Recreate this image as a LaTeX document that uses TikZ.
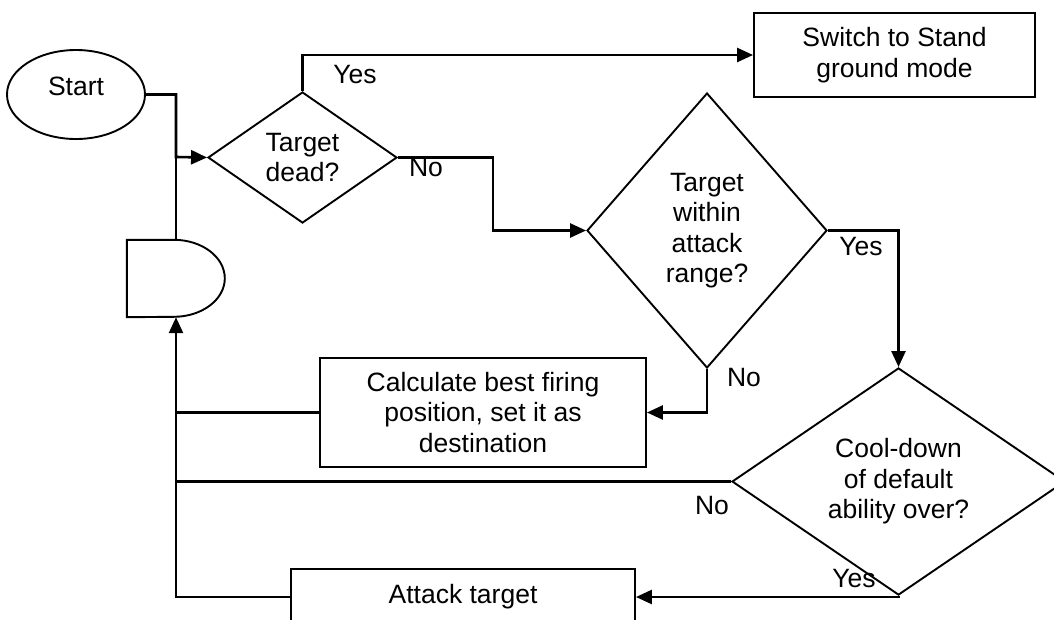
\documentclass[tikz,border=0pt]{standalone}
\usepackage{fontspec}
\setmainfont{Liberation Sans}
\usetikzlibrary{shapes.geometric,arrows.meta}
\begin{document}
\begin{tikzpicture}[x=1pt,y=-1pt,
  every node/.style={font=\fontsize{26.5}{30.5}\selectfont, align=center, inner sep=0pt},
  outline/.style={draw, line width=1.9pt},
  terminal/.style={outline, ellipse},
  decision/.style={outline, diamond},
  process/.style={outline, rectangle},
  flow/.style={line width=2.6pt},
  arr/.style={flow, -{Triangle[length=16pt,width=14pt]}}]
\useasboundingbox (0,0) rectangle (1054,619);

% shapes
\node[terminal, minimum width=138pt, minimum height=89pt, text depth=15.6pt] (start) at (76,94.5) {Start};
\node[decision, minimum width=189pt, minimum height=131pt] (dead) at (302.5,157.5) {Target\\dead?};
\node[process, minimum width=281pt, minimum height=84pt] (stand) at (894.5,55) {Switch to Stand\\ground mode};
\node[decision, minimum width=240pt, minimum height=275pt] (range) at (707,230.5) {Target\\within\\attack\\range?};
\node[process, minimum width=326pt, minimum height=109pt] (calc) at (483,412.5) {Calculate best firing\\position, set it as\\destination};
\node[decision, minimum width=333pt, minimum height=207pt] (cool) at (898.5,481.5) {Cool-down\\of default\\ability over?};
\node[process, minimum width=344pt, minimum height=56pt] (attack) at (463,597) {Attack target};

% merge gate (D shape)
\node[minimum width=98pt, minimum height=77pt] (gate) at (176,278.5) {};
\draw[outline] (gate.north west) -- ++(47,0)
  arc[start angle=90, end angle=-90, x radius=51pt, y radius=38.5pt]
  -- (gate.south west) -- cycle;

\coordinate (join) at (176,157);

% connectors
\draw[arr] (start.east) -| (join) -- (dead.west);
\draw[flow] (gate.north) -- (join);
\draw[arr] (dead.north) |- (stand.west);
\draw[arr] (dead.east) -- ++(95,0) |- (range.west);
\draw[arr] (range.east) -| (cool.north);
\draw[arr] (range.south) |- (calc.east);
\draw[flow] (calc.west) -- (calc.west -| gate.south);
\draw[flow] (cool.west) -- (cool.west -| gate.south);
\draw[arr] (cool.south) |- (attack.east);
\draw[arr] (attack.west) -| (gate.south);

% branch labels
\node at (355,75) {Yes};
\node at (426,168) {No};
\node at (861,246.5) {Yes};
\node at (744,378) {No};
\node at (712,506) {No};
\node at (854,579) {Yes};
\end{tikzpicture}
\end{document}
